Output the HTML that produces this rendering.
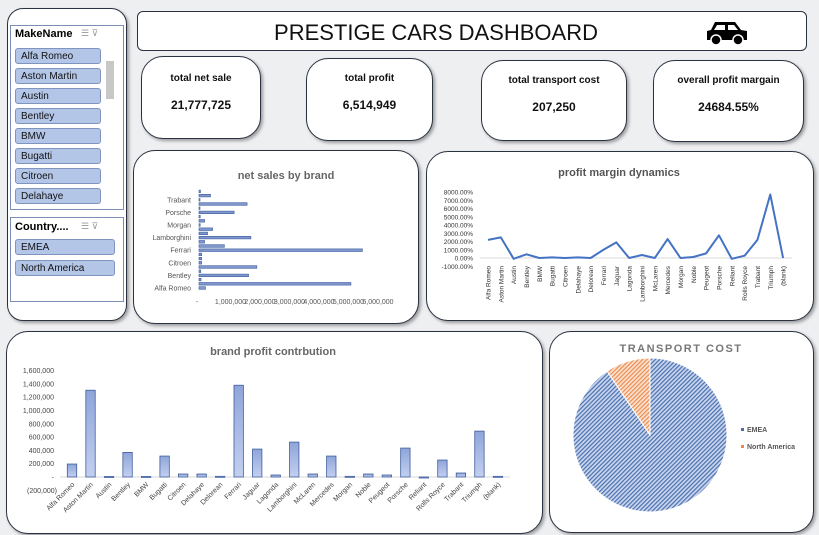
<!DOCTYPE html>
<html><head><meta charset="utf-8">
<style>
body{margin:0;width:819px;height:535px;background:#eeeff1;font-family:"Liberation Sans",sans-serif;position:relative;overflow:hidden}
.card{position:absolute;background:#fff;border:1.5px solid #2a3140;border-radius:22px;box-shadow:2px 2px 3px rgba(0,0,0,.35);box-sizing:border-box}
.kpi{text-align:center;font-weight:bold;color:#111;font-size:10px}
.kpi .v{font-size:12px;margin-top:14px}
.slbox{position:absolute;border:1px solid #7b8fb5;background:#fff}
.item{position:absolute;left:4px;width:86px;height:16px;background:#b4c6e7;border:1px solid #7f94bf;border-radius:3px;font-size:10px;line-height:16px;padding-left:5px;box-sizing:border-box;color:#111}
svg{position:absolute;left:0;top:0}
</style></head><body>
<div class="card" style="left:7px;top:8px;width:120px;height:313px;border-radius:16px"></div>
<div class="slbox" style="left:10px;top:25px;width:112px;height:183px">
 <div style="position:absolute;left:4px;top:2px;font-weight:bold;font-size:11px">MakeName</div>
 <div style="position:absolute;left:70px;top:2px;font-size:9px;color:#999">☰ ⊽</div>
 <div class="item" style="top:22px">Alfa Romeo</div>
 <div class="item" style="top:42px">Aston Martin</div>
 <div class="item" style="top:62px">Austin</div>
 <div class="item" style="top:82px">Bentley</div>
 <div class="item" style="top:102px">BMW</div>
 <div class="item" style="top:122px">Bugatti</div>
 <div class="item" style="top:142px">Citroen</div>
 <div class="item" style="top:162px">Delahaye</div>
 <div style="position:absolute;left:95px;top:35px;width:8px;height:38px;background:#c8c8c8"></div>
</div>
<div class="slbox" style="left:10px;top:217px;width:112px;height:83px">
 <div style="position:absolute;left:4px;top:3px;font-weight:bold;font-size:11px">Country....</div>
 <div style="position:absolute;left:70px;top:3px;font-size:9px;color:#999">☰ ⊽</div>
 <div class="item" style="top:21px;width:100px">EMEA</div>
 <div class="item" style="top:42px;width:100px">North America</div>
</div>
<div class="card" style="left:137px;top:11px;width:670px;height:40px;border-radius:6px;box-shadow:none">
 <div style="position:absolute;left:0;width:596px;top:8px;text-align:center;font-size:22px;color:#111">PRESTIGE CARS DASHBOARD</div>
 <svg style="left:567px;top:6px" width="44" height="28" viewBox="0 0 44 28"><path d="M10 4 L30 4 L36 12 L42 13 L42 22 L2 22 L2 13 L6 12 Z" fill="#000"/><path d="M12 7 L20 7 L20 12 L9 12 Z M23 7 L29 7 L33 12 L23 12 Z" fill="#fff"/><circle cx="11" cy="22" r="5" fill="#000" stroke="#fff" stroke-width="1.5"/><circle cx="33" cy="22" r="5" fill="#000" stroke="#fff" stroke-width="1.5"/></svg>
</div>
<div class="card kpi" style="left:141px;top:56px;width:120px;height:83px"><div style="margin-top:16px">total net sale</div><div class="v">21,777,725</div></div>
<div class="card kpi" style="left:306px;top:58px;width:127px;height:83px"><div style="margin-top:14px">total profit</div><div class="v">6,514,949</div></div>
<div class="card kpi" style="left:481px;top:60px;width:146px;height:81px"><div style="margin-top:14px">total transport cost</div><div class="v">207,250</div></div>
<div class="card kpi" style="left:653px;top:60px;width:151px;height:82px"><div style="margin-top:14px">overall profit margain</div><div class="v">24684.55%</div></div>
<div class="card" style="left:133px;top:150px;width:286px;height:174px"></div>
<div class="card" style="left:426px;top:151px;width:388px;height:170px"></div>
<div class="card" style="left:6px;top:331px;width:537px;height:203px"></div>
<div class="card" style="left:549px;top:331px;width:265px;height:202px"></div>
<svg id="charts" width="819" height="535">
<defs><pattern id="hb" width="3" height="3" patternUnits="userSpaceOnUse" patternTransform="rotate(45)"><rect width="3" height="3" fill="#c9d6ee"/><rect width="1.2" height="3" fill="#4a6fae"/></pattern>
<pattern id="ho" width="3" height="3" patternUnits="userSpaceOnUse" patternTransform="rotate(45)"><rect width="3" height="3" fill="#fbe2d0"/><rect width="1.2" height="3" fill="#ec8a4e"/></pattern>
<linearGradient id="bg" x1="0" y1="0" x2="0" y2="1"><stop offset="0" stop-color="#8fa5d9"/><stop offset="1" stop-color="#c3cff0"/></linearGradient></defs>
<text x="286" y="179" text-anchor="middle" font-size="11" font-weight="bold" fill="#666">net sales by brand</text>
<text x="619" y="176" text-anchor="middle" font-size="11" font-weight="bold" fill="#555">profit margin dynamics</text>
<text x="273" y="355" text-anchor="middle" font-size="11" font-weight="bold" fill="#666">brand profit contrbution</text>
<text x="681" y="352" text-anchor="middle" font-size="11" font-weight="bold" fill="#777" letter-spacing="1.5">TRANSPORT COST</text>
</svg>
<script>
const brands=["Alfa Romeo","Aston Martin","Austin","Bentley","BMW","Bugatti","Citroen","Delahaye","Delorean","Ferrari","Jaguar","Lagonda","Lamborghini","McLaren","Mercedes","Morgan","Noble","Peugeot","Porsche","Reliant","Rolls Royce","Trabant","Triumph","(blank)"];
const netSales=[220000,5150000,70000,1680000,60000,1960000,90000,90000,90000,5540000,860000,190000,1760000,290000,460000,40000,190000,40000,1190000,30000,1630000,30000,390000,50000];
const netSalesTicks=["-","1,000,000","2,000,000","3,000,000","4,000,000","5,000,000","6,000,000"];
const margins=[2200,2500,-100,450,0,80,0,80,0,1000,1900,0,360,0,2300,0,120,560,2750,-100,280,2200,7700,0];
const marginTicks=[8000,7000,6000,5000,4000,3000,2000,1000,0,-1000];
const profits=[195000,1305000,8000,370000,8000,315000,45000,45000,10000,1380000,420000,30000,525000,45000,315000,10000,45000,30000,435000,-15000,255000,60000,690000,10000];
const profitTicks=[1600000,1400000,1200000,1000000,800000,600000,400000,200000,0,-200000];
const regions=["EMEA","North America"];
const transport=[187750,19500];
const NS="http://www.w3.org/2000/svg";
const svg=document.getElementById("charts");
function mk(t,a,txt){const e=document.createElementNS(NS,t);for(const k in a)e.setAttribute(k,a[k]);if(txt!==undefined)e.textContent=txt;svg.appendChild(e);return e;}
// net sales
const nsX=v=>199+v/1000000*29.5, nsY=i=>288-i*4.2;
brands.forEach((b,i)=>{
 const r=mk("rect",{x:nsX(0),y:nsY(i)-1.3,width:Math.max(1,nsX(netSales[i])-nsX(0)),height:2.6,fill:"#7e97cf",stroke:"#3f5e9c","stroke-width":0.6});
 
 
 if(i%3===0){const t=mk("text",{x:191,y:nsY(i)+2.5,"text-anchor":"end","font-size":7,"fill":"#555"},b);
 
 }
});
netSalesTicks.forEach((s,i)=>{const t=mk("text",{x:i===0?197:nsX(i*1000000)+2,y:304,"text-anchor":"middle","font-size":7,fill:"#555"},s);
 
 });
// profit margin
const pmX=i=>488+i*12.83, pmY=v=>258-v/1000*8.25;
mk("line",{x1:480,x2:792,y1:pmY(0),y2:pmY(0),stroke:"#d9d9d9","stroke-width":1});
marginTicks.forEach(v=>{const t=mk("text",{x:473,y:pmY(v)+2.5,"text-anchor":"end","font-size":6.5,fill:"#333"},(v<0?"-":"")+Math.abs(v).toFixed(2)+"%");
 
 });
const pl=mk("polyline",{points:margins.map((v,i)=>pmX(i)+","+pmY(v)).join(" "),fill:"none",stroke:"#4472c4","stroke-width":2,"stroke-linejoin":"round"});


brands.forEach((b,i)=>{const t=mk("text",{x:0,y:0,transform:`translate(${pmX(i)+2.5},266) rotate(-90)`,"text-anchor":"end","font-size":6.5,fill:"#333"},b);
 
 });
// brand profit
const bpX=i=>72+i*18.52, bpY=v=>477-v/200000*13.3;
mk("line",{x1:60,x2:510,y1:bpY(0),y2:bpY(0),stroke:"#d9d9d9","stroke-width":1});
profitTicks.forEach(v=>{const s=v===0?"-":(v<0?"("+Math.abs(v).toLocaleString("en-US")+")":v.toLocaleString("en-US"));
 const t=mk("text",{x:v<0?57:54,y:bpY(v)+2.5,"text-anchor":"end","font-size":7,fill:"#444"},s);
 
 });
brands.forEach((b,i)=>{const y1=bpY(Math.max(0,profits[i])),y2=bpY(Math.min(0,profits[i]));
 const r=mk("rect",{x:bpX(i)-4.7,y:y1,width:9.4,height:Math.max(1,y2-y1),fill:"url(#bg)",stroke:"#3f5e9c","stroke-width":0.8});
 
 
 const t=mk("text",{x:0,y:0,transform:`translate(${bpX(i)+3},485) rotate(-45)`,"text-anchor":"end","font-size":7,fill:"#444"},b);
 
 });
// pie (clockwise from 12 o'clock)
const cx=650,cy=435,R=77,tot=transport.reduce((a,b)=>a+b,0);
let ang=0;const fills=["url(#hb)","url(#ho)"],strokes=["#4a6fae","#ec8a4e"];
transport.forEach((v,i)=>{const a0=ang,a1=ang+v/tot*2*Math.PI;ang=a1;
 const p=(a)=>[cx+R*Math.sin(a),cy-R*Math.cos(a)];const [x0,y0]=p(a0),[x1,y1]=p(a1);
 const large=v/tot>0.5?1:0;
 const s=mk("path",{d:`M${cx},${cy} L${x0},${y0} A${R},${R} 0 ${large} 1 ${x1},${y1} Z`,fill:fills[i],stroke:"#fff","stroke-width":1});
 
 
 mk("rect",{x:741,y:428+i*17,width:3,height:3,fill:strokes[i]});
 const t=mk("text",{x:747,y:432+i*17,"font-size":7,"font-weight":"bold",fill:"#555"},regions[i]);
 
 });
</script>
</body></html>
